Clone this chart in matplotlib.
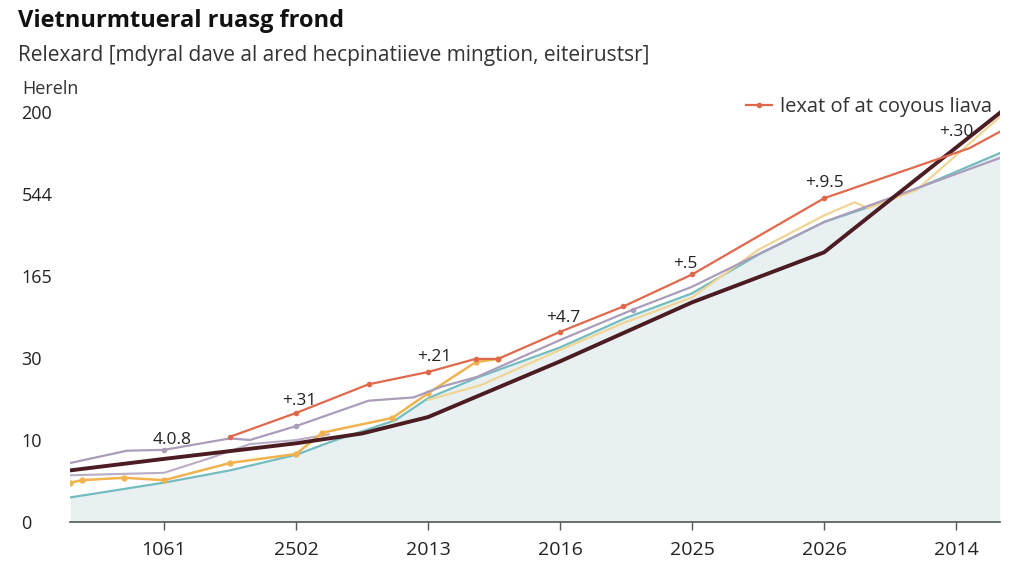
#!/usr/bin/env python3

import sys
import matplotlib
matplotlib.use("Agg")
from matplotlib import pyplot as plt


# tick labels as printed on the chart
xlabels = ["1061", "2502", "2013", "2016", "2025", "2026", "2014"]
ylabels = ["0", "10", "30", "165", "544", "200"]

# series, x in tick steps, y in tick steps
dark_x = [-0.71, 0, 1, 1.5, 2, 2.5, 3, 4, 5, 6.33]
dark_y = [0.63, 0.77, 0.96, 1.08, 1.28, 1.62, 1.96, 2.68, 3.29, 4.99]

red_x = [0.5, 1.0, 1.55, 2.0, 2.36, 2.53, 3.0, 3.48, 4.0, 5.0, 6.1, 6.33]
red_y = [1.04, 1.33, 1.68, 1.83, 1.99, 1.99, 2.32, 2.63, 3.02, 3.95, 4.56, 4.76]

purple_x = [-0.71, -0.28, 0, 0.5, 0.65, 1.0, 1.55, 1.89, 2.1, 2.37, 3.0, 3.55, 4.0, 5.0, 6.33]
purple_y = [0.72, 0.87, 0.88, 1.02, 1.0, 1.17, 1.48, 1.52, 1.65, 1.77, 2.22, 2.59, 2.87, 3.66, 4.44]

lavender_x = [-0.71, 0, 0.35, 0.65, 1.0, 1.25]
lavender_y = [0.57, 0.60, 0.78, 0.95, 1.0, 1.07]

orange_x = [-0.71, -0.62, -0.3, 0, 0.5, 1.0, 1.2, 1.73, 2.0, 2.36, 2.53]
orange_y = [0.48, 0.51, 0.54, 0.51, 0.72, 0.83, 1.09, 1.27, 1.57, 1.95, 1.99]

pale_x = [2.0, 2.4, 3.0, 3.5, 4.0, 4.5, 5.0, 5.23, 5.33, 5.7, 6.33]
pale_y = [1.49, 1.67, 2.10, 2.44, 2.74, 3.32, 3.74, 3.90, 3.83, 4.05, 4.94]

teal_x = [-0.71, 0, 0.5, 1.0, 1.3, 1.75, 2.0, 2.37, 3.0, 3.5, 4.0, 4.5, 5.0, 5.5, 6.33]
teal_y = [0.30, 0.48, 0.63, 0.82, 1.0, 1.24, 1.51, 1.76, 2.13, 2.49, 2.79, 3.26, 3.66, 3.93, 4.5]

# callouts: text, which series, point index
notes = ["4.0.8", "+.31", "+.21", "+4.7", "+.5", "+.9.5", "+.30"]
note_src = ["purple", "red", "red", "red", "red", "red", "red"]
note_idx = [2, 1, 3, 6, 8, 9, 10]

legend_label = "lexat of at coyous liava"


def plot(out):
	plt.rcParams['font.family'] = ['Open Sans', 'DejaVu Sans']
	fig = plt.figure(figsize=(10.24, 5.76), dpi=100)
	ax = fig.add_axes([0.0684, 0.09375, 0.9082, 0.7257])

	ax.fill_between(teal_x, teal_y, 0, color='#e9f0f2', lw=0, zorder=0)

	ax.plot(lavender_x, lavender_y, c='#b9adc6', lw=1.5, zorder=2)
	ax.plot(teal_x, teal_y, c='#74bcc0', lw=1.6, zorder=3)
	ax.plot(pale_x, pale_y, c='#f0d595', lw=1.6, zorder=3)
	ax.plot(orange_x, orange_y, c='#f2b24e', lw=1.8, marker='o', ms=3.5, zorder=4)
	ax.plot(purple_x, purple_y, c='#ab9dba', lw=1.6, marker='o', ms=3, markevery=[2, 5, 11], zorder=4)
	ax.plot(dark_x, dark_y, c='#4b1c22', lw=2.8, zorder=5)
	ax.plot(red_x, red_y, c='#e0694c', lw=1.6, marker='o', ms=3, markevery=list(range(10)),
		zorder=6, label=legend_label)

	src = {"red": (red_x, red_y), "purple": (purple_x, purple_y)}
	offs = [(6, 1.5), (2, 3), (4.5, 5), (2, 4), (-5, 1.5), (0, 5), (-9, 6)]
	for txt, s, i, o in zip(notes, note_src, note_idx, offs):
		xs, ys = src[s]
		ax.annotate(txt, (xs[i], ys[i]), xytext=o, textcoords='offset points',
			ha='center', va='bottom', fontsize=12.5, color='#222222', zorder=7)

	ax.set_xlim(-0.712, 6.333)
	ax.set_ylim(0, 5.1)
	ax.set_xticks(range(len(xlabels)))
	ax.set_xticklabels(xlabels, fontsize=14, color='#222222')
	ax.set_yticks(range(len(ylabels)))
	ax.set_yticklabels(ylabels, fontsize=13, color='#222222', ha='left')
	ax.tick_params(axis='x', length=6, width=1, color='#555555', pad=8)
	ax.tick_params(axis='y', length=0, pad=35)
	for s in ['top', 'right', 'left']:
		ax.spines[s].set_visible(False)
	ax.spines['bottom'].set_color('#555555')
	ax.spines['bottom'].set_linewidth(1.2)

	leg = ax.legend(loc='upper right', bbox_to_anchor=(1.0, 1.035), frameon=False, fontsize=14.5,
		handlelength=1.3, handletextpad=0.4, borderaxespad=0)
	for t in leg.get_texts():
		t.set_color('#333333')

	fig.text(0.018, 0.964, "Vietnurmtueral ruasg frond", fontsize=17, fontweight='bold',
		color='#111111', va='center')
	fig.text(0.018, 0.903, "Relexard [mdyral dave al ared hecpinatiieve mingtion, eiteirustsr]",
		fontsize=15, color='#333333', va='center')
	fig.text(0.022, 0.846, "Hereln", fontsize=13, color='#333333', va='center')

	fig.savefig(out, dpi=100)


def main(argv=None):
	if argv == None:
		argv = sys.argv
	plot("out.png")
	return 0


if __name__ == '__main__':
	sys.exit(main())
